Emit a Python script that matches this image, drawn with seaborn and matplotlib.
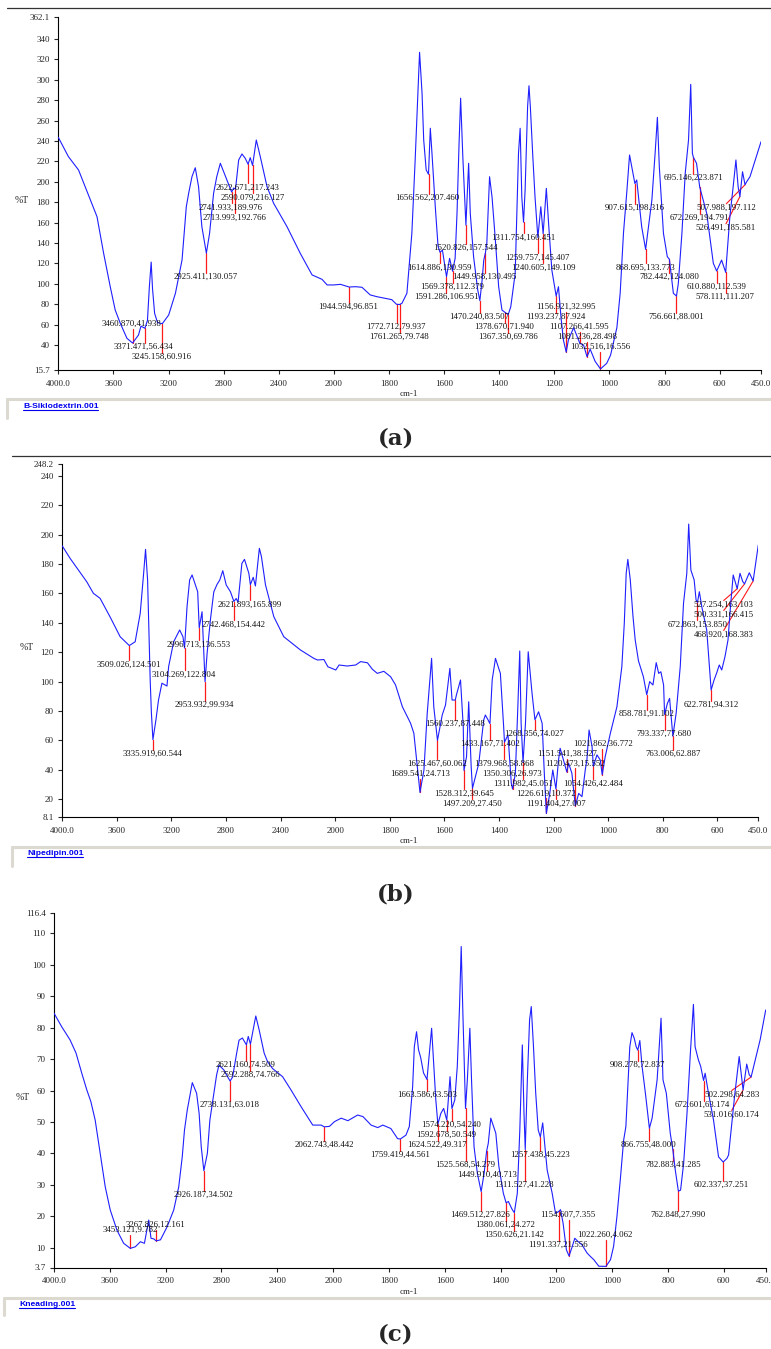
import numpy as np
import pandas as pd
import matplotlib
matplotlib.use("Agg")
import matplotlib.pyplot as plt
import seaborn as sns
from matplotlib.lines import Line2D

sns.set_style("white")
plt.rcParams['font.family'] = ['Liberation Serif', 'DejaVu Serif']
plt.rcParams['axes.edgecolor'] = 'black'

# ------------------------------------------------------------------ data
X_TICKS = [4000, 3600, 3200, 2800, 2400, 2000, 1800, 1600, 1400, 1200, 1000, 800, 600, 450]
X_TICK_LABELS = ["4000.0", "3600", "3200", "2800", "2400", "2000", "1800", "1600",
                 "1400", "1200", "1000", "800", "600", "450.0"]

# ---- (a) B-Siklodextrin
A_NAME = "B-Siklodextrin.001"
A_YLIM = (15.7, 362.1)
A_YTICKS = [15.7, 40, 60, 80, 100, 120, 140, 160, 180, 200, 220, 240, 260, 280, 300, 320, 340, 362.1]
A_TRACE = [(4000, 243.6), (3927, 224.8), (3853, 211.6), (3719, 165.8), (3671, 129.9), (3623, 97.2),
           (3587, 74.3), (3550, 61.3), (3502, 46.6), (3418, 49.8), (3400, 58.5), (3353, 64.0),
           (3339, 97.2), (3326, 121.3), (3316, 95.0), (3301, 71.1), (3280, 62.0), (3199, 69.4),
           (3150, 90.7), (3102, 123.3), (3071, 175.6), (3054, 188.7), (3030, 205.0), (3006, 213.8),
           (2982, 195.2), (2958, 156.0), (2902, 149.5), (2873, 188.7), (2850, 205.0), (2824, 218.2),
           (2776, 201.8), (2727, 194.0), (2691, 221.4), (2667, 227.3), (2643, 223.0), (2607, 223.7),
           (2563, 241.0), (2534, 224.7), (2485, 195.2), (2437, 178.9), (2340, 156.0), (2244, 129.9),
           (2158, 108.7), (2086, 104.4), (2049, 98.9), (2000, 98.9), (1976, 99.5), (1922, 97.2),
           (1898, 96.6), (1868, 89.1), (1844, 87.4), (1790, 84.5), (1753, 80.9), (1735, 90.7),
           (1717, 149.5), (1705, 221.4), (1696, 280.2), (1689, 327.0), (1680, 286.8), (1674, 241.0),
           (1665, 211.6), (1650, 252.5), (1644, 228.0), (1632, 175.6), (1622, 137.0), (1606, 133.0),
           (1580, 125.0), (1560, 125.0), (1553, 170.0), (1546, 235.0), (1540, 282.0), (1532, 224.3),
           (1511, 218.2), (1505, 169.0), (1493, 126.6), (1478, 94.0), (1462, 103.7), (1456, 123.3),
           (1445, 139.7), (1435, 205.0), (1426, 185.0), (1414, 143.0), (1402, 97.2), (1390, 74.3),
           (1358, 77.6), (1342, 110.3), (1330, 228.0), (1324, 252.5), (1318, 185.0), (1306, 192.0),
           (1297, 273.6), (1292, 294.2), (1287, 273.6), (1278, 224.6), (1270, 185.0), (1249, 175.6),
           (1229, 193.6), (1220, 156.0), (1209, 113.5), (1185, 97.2), (1176, 67.8), (1167, 44.9),
           (1149, 44.9), (1130, 57.0), (1094, 40.0), (1070, 36.0), (1052, 24.0), (1010, 22.0),
           (996, 30.0), (973, 57.0), (961, 91.0), (949, 150.0), (937, 190.0), (927, 226.3),
           (919, 214.8), (901, 201.8), (883, 156.0), (846, 182.2), (834, 229.0), (826, 263.2),
           (819, 214.8), (804, 149.5), (790, 126.6), (768, 90.7), (750, 100.5), (737, 149.5),
           (725, 208.3), (713, 241.0), (705, 295.6), (699, 228.0), (684, 218.2), (647, 169.1),
           (623, 120.1), (593, 123.3), (563, 165.8), (551, 195.2), (541, 221.4), (533, 195.2),
           (517, 209.9), (502, 200.1), (490, 205.0), (450, 239.3)]
A_PEAK_WN = [3460.870, 3371.471, 3245.158, 2925.411, 2741.933, 2713.993, 2622.671, 2590.079,
             1944.594, 1772.712, 1761.265, 1656.562, 1520.826, 1614.886, 1449.958, 1569.378,
             1591.286, 1470.240, 1378.670, 1367.350, 1311.754, 1259.757, 1240.605, 1156.921,
             1193.237, 1107.266, 1081.236, 1032.516, 907.615, 868.695, 782.442, 756.661,
             695.146, 672.269, 507.988, 526.491, 610.880, 578.111]
A_PEAK_T = [41.938, 56.434, 60.916, 130.057, 189.976, 192.766, 217.243, 216.127,
            96.851, 79.937, 79.748, 207.460, 157.544, 130.959, 130.495, 112.379,
            106.951, 83.507, 71.940, 69.786, 160.451, 145.407, 149.109, 32.995,
            87.924, 41.595, 28.498, 16.556, 198.316, 133.773, 124.080, 88.001,
            223.871, 194.791, 197.112, 185.581, 112.539, 111.207]

# ---- (b) Nipedipin
B_NAME = "Nipedipin.001"
B_YLIM = (8.1, 248.2)
B_YTICKS = [8.1, 20, 40, 60, 80, 100, 120, 140, 160, 180, 200, 220, 240, 248.2]
B_TRACE = [(4000, 192.2), (3943, 183.8), (3882, 175.9), (3821, 167.9), (3772, 160.0), (3723, 156.6),
           (3650, 144.0), (3576, 130.5), (3466, 127.1), (3429, 146.4), (3404, 173.6), (3390, 189.9),
           (3375, 169.1), (3356, 101.1), (3347, 78.5), (3314, 73.9), (3295, 87.5), (3270, 98.9),
           (3233, 97.0), (3221, 110.1), (3184, 127.1), (3140, 135.1), (3116, 130.5), (3086, 150.9),
           (3067, 169.1), (3049, 172.5), (3025, 165.7), (3008, 161.1), (2976, 147.5), (2939, 119.2),
           (2915, 141.8), (2890, 161.0), (2866, 166.1), (2846, 169.1), (2824, 175.4), (2799, 165.7),
           (2768, 161.1), (2726, 156.5), (2712, 154.0), (2684, 180.4), (2665, 183.1), (2633, 173.6),
           (2601, 170.9), (2585, 165.0), (2556, 190.6), (2541, 185.0), (2511, 165.7), (2450, 144.1),
           (2377, 130.5), (2255, 121.5), (2157, 115.8), (2130, 114.7), (2083, 115.0), (2054, 110.1),
           (1998, 107.9), (1986, 111.3), (1956, 110.6), (1925, 111.3), (1907, 113.6), (1882, 112.8),
           (1864, 108.4), (1846, 105.6), (1822, 107.0), (1797, 103.3), (1779, 97.7), (1754, 82.9),
           (1724, 71.7), (1712, 64.9), (1675, 39.9), (1663, 78.5), (1647, 115.8), (1639, 82.9),
           (1608, 77.3), (1596, 84.1), (1580, 109.0), (1572, 87.5), (1556, 91.0), (1541, 101.1),
           (1531, 69.4), (1519, 48.9), (1511, 86.3), (1502, 42.2), (1474, 44.5), (1456, 73.9),
           (1450, 77.3), (1440, 73.9), (1425, 101.1), (1413, 115.8), (1395, 105.6), (1383, 69.4),
           (1367, 63.7), (1355, 30.9), (1340, 37.7), (1331, 82.9), (1324, 120.8), (1319, 71.7),
           (1303, 71.7), (1293, 120.3), (1279, 92.1), (1255, 79.5), (1242, 71.7), (1234, 37.7),
           (1214, 24.0), (1203, 39.9), (1182, 46.7), (1176, 54.7), (1164, 46.7), (1145, 44.5),
           (1133, 37.7), (1108, 24.0), (1096, 21.8), (1084, 39.9), (1078, 46.7), (1070, 67.1),
           (1059, 55.8), (1041, 50.2), (1029, 46.7), (1011, 48.9), (992, 64.9), (968, 82.9),
           (950, 110.1), (941, 139.6), (934, 173.6), (928, 183.1), (919, 169.1), (909, 144.1),
           (901, 128.3), (889, 114.1), (871, 103.3), (848, 100.0), (836, 97.7), (824, 112.9),
           (815, 105.6), (807, 106.7), (797, 97.7), (783, 85.2), (775, 88.6), (751, 78.5),
           (736, 110.1), (724, 153.2), (712, 173.6), (705, 207.1), (697, 175.8), (685, 169.1),
           (678, 155.5), (666, 161.1), (657, 150.9), (639, 135.1), (612, 101.1), (603, 105.6),
           (593, 111.3), (584, 107.9), (572, 117.0), (561, 128.3), (552, 150.9), (542, 172.5),
           (517, 173.6), (507, 168.0), (483, 174.0), (450, 192.9)]
B_PEAK_WN = [3509.026, 3335.919, 3104.269, 2996.713, 2953.932, 2742.468, 2621.893, 1689.541,
             1625.467, 1560.237, 1528.312, 1497.209, 1433.167, 1379.968, 1350.306, 1311.982,
             1268.356, 1226.619, 1191.404, 1151.541, 1120.473, 1054.426, 1021.862, 858.781,
             793.337, 763.006, 622.781, 672.863, 527.254, 500.331, 468.920]
B_PEAK_T = [124.501, 60.544, 122.804, 136.553, 99.934, 154.442, 165.899, 24.713,
            60.062, 87.448, 39.645, 27.450, 71.402, 58.868, 26.973, 45.051,
            74.027, 10.372, 27.007, 38.527, 15.552, 42.484, 36.772, 91.102,
            77.680, 62.887, 94.312, 153.850, 163.103, 166.415, 168.383]

# ---- (c) Kneading
C_NAME = "Kneading.001"
C_YLIM = (3.7, 116.4)
C_YTICKS = [3.7, 10, 20, 30, 40, 50, 60, 70, 80, 90, 100, 110, 116.4]
C_TRACE = [(4000, 84.6), (3945, 80.3), (3885, 76.1), (3842, 71.9), (3801, 65.5), (3765, 60.2),
           (3736, 56.5), (3705, 50.6), (3669, 40.0), (3633, 29.4), (3597, 22.0), (3549, 15.6),
           (3501, 11.4), (3417, 10.3), (3381, 11.9), (3352, 11.4), (3321, 18.8), (3305, 13.0),
           (3285, 12.8), (3237, 12.5), (3189, 16.7), (3142, 22.0), (3106, 29.4), (3081, 38.9),
           (3065, 47.4), (3045, 53.8), (3009, 62.5), (2978, 59.1), (2960, 52.7), (2945, 42.1),
           (2901, 40.0), (2883, 50.6), (2854, 59.1), (2835, 64.9), (2818, 68.1), (2782, 66.5),
           (2755, 64.3), (2720, 64.3), (2691, 71.9), (2674, 76.0), (2650, 76.7), (2608, 77.2),
           (2554, 83.7), (2530, 79.3), (2494, 71.9), (2470, 69.2), (2434, 67.0), (2362, 64.4),
           (2302, 60.2), (2230, 54.9), (2146, 49.0), (2086, 49.0), (2026, 48.6), (1995, 50.1),
           (1971, 51.2), (1947, 50.4), (1912, 52.2), (1893, 51.7), (1864, 49.0), (1840, 48.2),
           (1822, 49.0), (1793, 47.9), (1769, 44.7), (1739, 45.8), (1727, 48.5), (1715, 61.2),
           (1709, 73.9), (1701, 78.7), (1694, 73.0), (1686, 70.4), (1676, 65.6), (1647, 79.8),
           (1639, 67.7), (1632, 57.0), (1614, 52.7), (1604, 54.3), (1581, 64.4), (1564, 57.0),
           (1555, 67.7), (1547, 86.7), (1541, 105.8), (1535, 84.6), (1519, 63.4), (1510, 79.8),
           (1504, 63.4), (1495, 42.1), (1483, 33.6), (1459, 33.6), (1444, 43.2), (1438, 48.5),
           (1435, 51.2), (1425, 48.5), (1417, 46.4), (1406, 35.8), (1390, 27.3), (1372, 24.7),
           (1358, 22.1), (1340, 27.3), (1331, 47.4), (1322, 74.5), (1316, 52.7), (1304, 63.4),
           (1296, 82.5), (1290, 86.7), (1282, 73.9), (1274, 59.1), (1265, 47.4), (1249, 49.7),
           (1242, 43.2), (1233, 34.7), (1215, 27.3), (1203, 20.9), (1185, 22.1), (1176, 17.8),
           (1164, 9.3), (1143, 10.4), (1134, 13.0), (1123, 12.0), (1108, 10.9), (1090, 8.3),
           (1078, 7.2), (1066, 6.2), (1048, 4.1), (1006, 6.2), (995, 10.4), (983, 19.9),
           (971, 31.6), (959, 44.2), (951, 48.5), (945, 59.1), (937, 73.9), (929, 78.4),
           (921, 76.6), (914, 73.9), (901, 75.9), (893, 67.7), (881, 59.1), (857, 51.2),
           (839, 63.4), (829, 77.2), (825, 83.0), (818, 63.4), (806, 59.1), (792, 46.4),
           (774, 34.7), (755, 28.3), (744, 36.8), (732, 52.7), (720, 71.8), (709, 87.4),
           (703, 73.9), (691, 69.7), (683, 67.7), (667, 65.5), (655, 59.1), (637, 50.6),
           (619, 38.9), (589, 38.4), (583, 39.5), (571, 50.1), (561, 58.6), (545, 70.8),
           (535, 63.4), (518, 68.4), (509, 65.0), (470, 76.1), (450, 85.6)]
C_PEAK_WN = [3453.121, 3267.826, 2926.187, 2738.131, 2621.160, 2592.288, 2062.743, 1759.419,
             1663.586, 1574.220, 1592.678, 1624.522, 1525.568, 1449.910, 1311.527, 1257.438,
             1469.512, 1380.061, 1350.626, 1154.607, 1191.337, 1022.260, 908.278, 866.755,
             782.883, 762.848, 672.601, 602.337, 502.298, 531.016]
C_PEAK_T = [9.782, 12.161, 34.502, 63.018, 74.509, 74.766, 48.442, 44.561,
            63.503, 54.240, 50.549, 49.317, 54.279, 40.713, 41.228, 45.223,
            27.826, 24.272, 21.142, 7.355, 21.556, 4.062, 72.837, 48.000,
            41.285, 27.990, 63.174, 37.251, 64.283, 60.174]

# ------------------------------------------------------------------ layout (pixels)
W, H = 771, 1349
BLUE = '#1f1fff'
RED = '#ff1a1a'
HALF = 4.5   # half height of a peak label in px

A_LBL = [(131.7, 324.3), (143.3, 347.3), (161.7, 357.3), (206, 277.3), (231, 207.7), (235, 217.7),
         (247.7, 187.7), (252.3, 197.7), (348.3, 307.3), (396, 327.3), (399, 337.3), (427.7, 198.3),
         (465.7, 248.3), (439.7, 267.7), (484.3, 277.3), (452, 287.3), (446.3, 297.3), (479.3, 317.3),
         (504.3, 327.3), (508.3, 337.3), (523, 237.7), (537.7, 257.7), (543, 267.7), (565.7, 307.3),
         (555.7, 317.3), (579, 327.3), (587, 337.3), (600.3, 347.3), (634.3, 208.3), (645.3, 267.7),
         (669.7, 277.3), (676, 317.3), (693, 178.3), (699, 218.3), (726.3, 208.3), (726, 228.3),
         (716.3, 287.3), (725.3, 297.3)]
B_LBL = [(128.7, 665), (152.7, 754.3), (184, 675), (199, 645), (204.3, 705), (233.7, 625), (250, 605),
         (419.7, 774), (437.3, 764), (454.7, 724.3), (463.7, 794), (471.7, 804), (490, 744.3),
         (504.3, 764), (512.3, 774), (522.7, 784), (534.3, 734.3), (546, 794), (556, 804),
         (566.7, 754.3), (575, 764), (593.3, 784), (602.7, 744.3), (646.7, 714.3), (664.3, 734.3),
         (672.7, 754.3), (711, 705), (697.7, 625), (723.7, 605), (723.7, 615), (723.7, 635)]
C_LBL = [(130.3, 1230), (155.3, 1225), (203.3, 1195), (230, 1105), (246, 1065), (250, 1075),
         (324.3, 1145), (399.7, 1155), (426.7, 1095), (451, 1125), (445.7, 1135), (437.3, 1145),
         (465, 1165), (486.7, 1175), (524, 1185), (540, 1155), (480, 1215), (505.3, 1225),
         (514, 1235), (568, 1215), (558.3, 1245), (604.7, 1235), (637, 1065), (648.3, 1145),
         (672.7, 1165), (677.7, 1215), (702.3, 1105), (721.7, 1185), (731.7, 1095), (731.7, 1115)]

PANELS = [
    dict(name=A_NAME, tag="(a)", trace=A_TRACE, pw=A_PEAK_WN, pt=A_PEAK_T, ylim=A_YLIM, yticks=A_YTICKS,
         box=(58.3, 16.5, 761.0, 369.8), lbl=A_LBL, slant={34, 35}, pct=(21.7, 200.7),
         cm=(409, 394), link=(23, 406.5), bar=(7, 399, 418), topline=(7, 8), tagxy=(396, 439)),
    dict(name=B_NAME, tag="(b)", trace=B_TRACE, pw=B_PEAK_WN, pt=B_PEAK_T, ylim=B_YLIM, yticks=B_YTICKS,
         box=(62.3, 463.6, 758.3, 816.8), lbl=B_LBL, slant={28, 29, 30}, pct=(26.7, 647),
         cm=(409, 841), link=(27, 853.5), bar=(12, 847, 866), topline=(12, 455.7), tagxy=(396, 895)),
    dict(name=C_NAME, tag="(c)", trace=C_TRACE, pw=C_PEAK_WN, pt=C_PEAK_T, ylim=C_YLIM, yticks=C_YTICKS,
         box=(54.0, 913.2, 765.7, 1267.5), lbl=C_LBL, slant={28, 29}, pct=(22.7, 1097.7),
         cm=(409, 1292), link=(19, 1304.5), bar=(4, 1298, 1315), topline=None, tagxy=(396, 1335)),
]


def fwd(x):
    x = np.asarray(x, dtype=float)
    return np.where(x > 2000, 2000 + (x - 2000) / 2.0, x)


def inv(t):
    t = np.asarray(t, dtype=float)
    return np.where(t > 2000, 2000 + (t - 2000) * 2.0, t)


def ytick_label(v):
    return f"{v:.1f}" if abs(v - round(v)) > 1e-9 else f"{int(round(v))}"


fig = plt.figure(figsize=(W / 100, H / 100), dpi=100)
renderer = fig.canvas.get_renderer()

for cfg in PANELS:
    l, t, r, b = cfg['box']
    ax = fig.add_axes([l / W, 1 - b / H, (r - l) / W, (b - t) / H])
    ax.set_xscale('function', functions=(fwd, inv))

    pts = sorted(list(cfg['trace']) + list(zip(cfg['pw'], cfg['pt'])), key=lambda p: -p[0])
    df = pd.DataFrame(pts, columns=['wn', 'T'])
    sns.lineplot(data=df, x='wn', y='T', ax=ax, sort=False, estimator=None,
                 color=BLUE, linewidth=0.8, zorder=3)
    ax.set_xlim(4000, 450)
    ax.set_ylim(*cfg['ylim'])
    ax.autoscale(False)
    ax.set_xlabel('')
    ax.set_ylabel('')

    for s in ('top', 'right'):
        ax.spines[s].set_visible(False)
    for s in ('left', 'bottom'):
        ax.spines[s].set_linewidth(0.8)
        ax.spines[s].set_color('black')

    ax.set_xticks(X_TICKS)
    ax.set_xticklabels(X_TICK_LABELS)
    ax.set_yticks(cfg['yticks'])
    ax.set_yticklabels([ytick_label(v) for v in cfg['yticks']])
    ax.minorticks_off()
    ax.tick_params(axis='x', bottom=True, length=3, width=0.8, pad=4, labelsize=6.5, direction='out')
    ax.tick_params(axis='y', left=True, length=3, width=0.8, pad=3, labelsize=6.5, direction='out')

    # peak markers and labels
    inv_tr = ax.transData.inverted()
    for i, (wn, tv) in enumerate(zip(cfg['pw'], cfg['pt'])):
        tx, ty = cfg['lbl'][i]
        pdx, pdy = ax.transData.transform((wn, tv))
        ty_disp = H - ty
        if i in cfg['slant']:
            ex, ey = inv_tr.transform((tx, ty_disp + HALF))
            ax.plot([wn, ex], [tv, ey], color=RED, lw=0.8, zorder=2, clip_on=False)
        else:
            edge = ty_disp + HALF if ty_disp < pdy else ty_disp - HALF
            ye = inv_tr.transform((pdx, edge))[1]
            ax.plot([wn, wn], [tv, ye], color=RED, lw=0.9, zorder=2, clip_on=False)
        fig.text(tx / W, 1 - ty / H, f"{wn:.3f},{tv:.3f}", ha='center', va='center',
                 fontsize=6.3, color='#111111')

    # axis captions
    fig.text(cfg['pct'][0] / W, 1 - cfg['pct'][1] / H, "%T", ha='center', va='center', fontsize=7)
    fig.text(cfg['cm'][0] / W, 1 - cfg['cm'][1] / H, "cm-1", ha='center', va='center', fontsize=6.5)

    # top frame line
    if cfg['topline'] is not None:
        x0, y0 = cfg['topline']
        fig.add_artist(Line2D([x0 / W, 1.0], [1 - y0 / H, 1 - y0 / H], color='#333333', lw=0.9))

    # grey status bar with file name
    bx, by0, by1 = cfg['bar']
    fig.add_artist(Line2D([bx / W, 1.0], [1 - by0 / H, 1 - by0 / H], color='#dcd9d1', lw=2.2))
    fig.add_artist(Line2D([bx / W, bx / W], [1 - by0 / H, 1 - by1 / H], color='#dcd9d1', lw=2.2))
    lx, ly = cfg['link']
    ttxt = fig.text(lx / W, 1 - ly / H, cfg['name'], ha='left', va='center', fontsize=6.1,
                    fontweight='bold', color='#0000ee', family=['Liberation Sans', 'DejaVu Sans'])
    bb = ttxt.get_window_extent(renderer)
    uy = (bb.y0 + 0.5) / H
    fig.add_artist(Line2D([bb.x0 / W, bb.x1 / W], [uy, uy], color='#0000ee', lw=0.8))

    # panel tag
    fig.text(cfg['tagxy'][0] / W, 1 - cfg['tagxy'][1] / H, cfg['tag'], ha='center', va='center',
             fontsize=16.5, fontweight='bold', family=['DejaVu Serif'])

fig.savefig("out.png", dpi=100)
